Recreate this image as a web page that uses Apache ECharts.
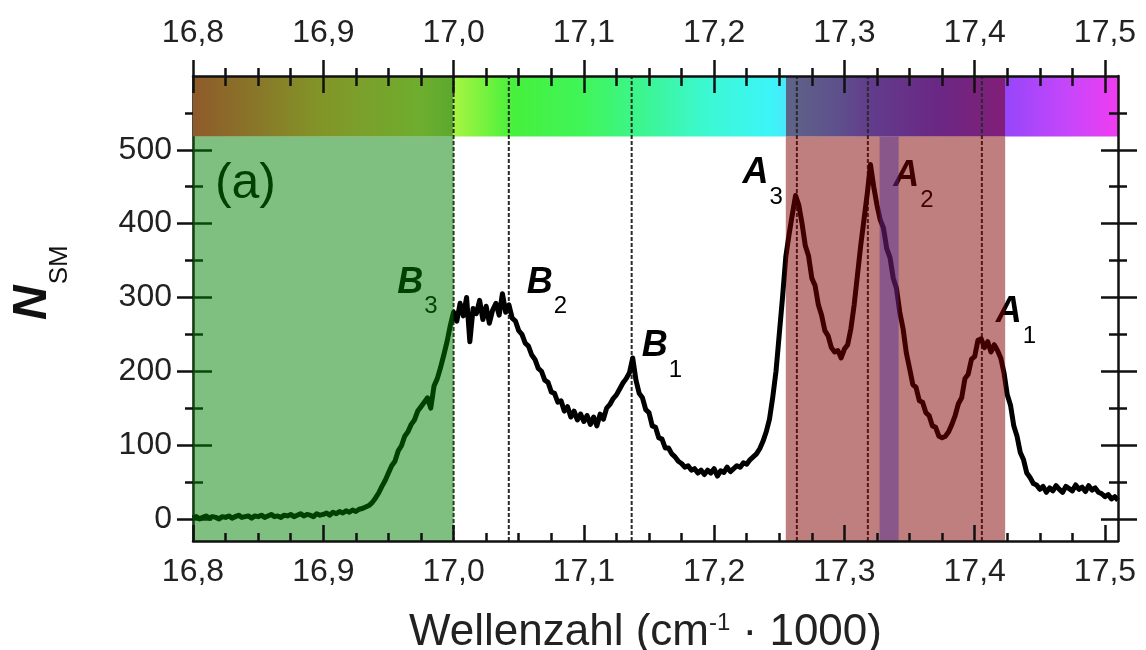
<!DOCTYPE html>
<html>
<head>
<meta charset="utf-8">
<script src="https://cdn.jsdelivr.net/npm/echarts@6/dist/echarts.min.js"></script>
<style>
  html, body { margin: 0; padding: 0; background: #fff; }
  #chart { width: 1146px; height: 650px; }
</style>
</head>
<body>
<div id="chart"></div>
<script>
// Wellenzahl grid of the measured spectrum (cm^-1 / 1000)
const X_START = 16.8;
const X_STEP = 0.0025;
const X_MIN = 16.8, X_MAX = 17.51;
const Y_MIN = -30, Y_MAX = 600;

// N_SM, one value every 0.0025
const nsm = [
  // 16.800 - 16.900
  1,3,0,2,4,1,3,2,0,3, 2,4,1,3,5,2,3,4,1,4, 3,5,2,4,6,3,4,2,5,4, 6,3,5,7,4,6,5,3,7,5, 6,
  // 16.9025 - 17.000 (flank up to B3)
  8,5,9,7,10,8,11,9,12,10,13,14, 16,18,22,28, 35,44,52,62, 72,78,92,99,112,
  118,128,134,146,152, 158,164,150,180, 190,205,222,240,262,280,
  // 17.0025 - 17.045 (plateau B3/B2)
  268,292,275,300,240,285,278,296,270,288,265,283,292,276,305,280,290,272,
  // 17.0475 - 17.100
  268,255,250,238,234,222,216,204,200,188,185,172,170,158,160,146,152,138,146,134,142,132,
  // 17.1025 - 17.1375 (B1)
  140,128,138,126,142,135,150, 155,163,168,176,184,190,198,218,
  // 17.14 - 17.235
  188,170,164,148,144,126,124,110,108,96,96, 88,84,78,75,70,72,66,68,62,66,
  60,66,62,68,58,65,63,70,64,68, 72,70,76,74,80,84,88,95,
  // 17.2375 - 17.2925 (A3)
  105,118,135,165, 200,250,300,355, 385,412,438,425, 400,370,356,326,316, 290,276,255,248,232,226,
  // 17.295 - 17.3475 (A2)
  228,218,230,236,258, 290,330,370,405, 440,480,450, 425,405,394,366,354,326, 312,280,258,225,
  // 17.35 - 17.4325 (A1)
  204,182,178,160,158, 144,140,126,124,112,110, 112,118,128,
  140,156,164,190,196,216,220,242,244, 232,240,226,236,228,218, 198,168,154,126,112,
  // 17.435 - 17.51
  90,80,62,56,48, 46,40,44,36,42,38,45,40,36,44,41,38,46,40,43,37,45,39,42,36, 34,30,33,27,30,25
];

const xMajorTicks = [16.8, 16.9, 17.0, 17.1, 17.2, 17.3, 17.4, 17.5];
const xMinorTicks = [16.825, 16.85, 16.875, 16.925, 16.95, 16.975, 17.025, 17.05, 17.075,
  17.125, 17.15, 17.175, 17.225, 17.25, 17.275, 17.325, 17.35, 17.375, 17.425, 17.45, 17.475];
const yMajorTicks = [0, 100, 200, 300, 400, 500];
const yMinorTicks = [50, 150, 250, 350, 450, 550];

// shaded ranges: B-band, A-band, narrow excitation band
const shadeFrom = [16.8, 17.255, 17.327];
const shadeTo = [17.0, 17.4234, 17.3416];
const shadeColors = ['rgba(0,128,0,0.5)', 'rgba(128,0,0,0.5)', 'rgba(70,40,150,0.45)'];

// peak positions (dashed lines)
const peakLines = [17.0, 17.0424, 17.1367, 17.2635, 17.318, 17.4055];

// colour bar on top
const barLow = 518;
const specX = [16.8, 16.9, 16.976, 16.999, 17.0, 17.046, 17.10, 17.142, 17.193, 17.243, 17.2549,
  17.255, 17.295, 17.32, 17.371, 17.4233, 17.4235, 17.473, 17.51];
const specColors = ['#8f5a2a', '#829628', '#6eae2e', '#5aaa2e', '#a8f542', '#46f03c', '#40f55a',
  '#3cf58c', '#3cf8d0', '#3cf5f8', '#48e8fa', '#5e6488', '#5e508c', '#623c8c', '#6a2884',
  '#821e78', '#9646fa', '#c846fa', '#f03cf0'];

// peak names (anchor = left edge / middle of the big letter)
const labelMain = ['(a)', 'B', 'B', 'B', 'A', 'A', 'A'];
const labelSub = ['', '3', '2', '1', '3', '2', '1'];
const labelX = [16.8168, 16.9567, 17.0561, 17.1444, 17.2217, 17.3375, 17.4162];
const labelY = [453, 320, 320, 234, 468, 464, 280];

const FONT = "'Liberation Sans', Arial, sans-serif";
const INK = '#111';
const fmtX = v => v.toFixed(1).replace('.', ',');

const BIG_FONT = 'italic bold 36px ' + FONT;
const SUB_FONT = '24px ' + FONT;
const TAG_FONT = '50px ' + FONT;

const measureCtx = document.createElement('canvas').getContext('2d');
function textWidth(font, s) {
  measureCtx.font = font;
  return measureCtx.measureText(s).width;
}

const chart = echarts.init(document.getElementById('chart'));

function axis(kind, position, ticks, inside, len, extra) {
  return Object.assign({
    type: 'value',
    position: position,
    min: kind === 'x' ? X_MIN : Y_MIN,
    max: kind === 'x' ? X_MAX : Y_MAX,
    z: 10,
    axisLine: { show: false, onZero: false, lineStyle: { color: INK, width: 2.5 } },
    axisTick: { show: true, inside: inside, length: len, customValues: ticks,
      lineStyle: { color: INK, width: 2.5 } },
    axisLabel: { show: false },
    splitLine: { show: false }
  }, extra || {});
}

const tickLabel = { fontFamily: FONT, fontSize: 32, color: '#222' };

const xAxes = [
  axis('x', 'bottom', xMajorTicks, true, 16, {
    axisLine: { show: true, onZero: false, lineStyle: { color: INK, width: 2.5 } },
    axisLabel: Object.assign({ show: true, margin: 15, customValues: xMajorTicks, formatter: fmtX }, tickLabel),
    name: '{t|Wellenzahl (cm}{sup|-1}{t| · 1000)}',
    nameLocation: 'middle',
    nameGap: 70,
    nameTextStyle: {
      padding: [0, 20, 0, 0],
      rich: {
        t: { fontFamily: FONT, fontSize: 44, lineHeight: 44, color: '#222' },
        sup: { fontFamily: FONT, fontSize: 24, lineHeight: 24, verticalAlign: 'top', color: '#222' }
      }
    }
  }),
  axis('x', 'bottom', xMinorTicks, true, 8),
  axis('x', 'top', xMajorTicks, false, 16, {
    axisLine: { show: true, onZero: false, lineStyle: { color: INK, width: 2.5 } },
    axisLabel: Object.assign({ show: true, margin: 27, customValues: xMajorTicks, formatter: fmtX }, tickLabel)
  }),
  axis('x', 'top', xMajorTicks, true, 17),
  axis('x', 'top', xMinorTicks, false, 8),
  axis('x', 'top', xMinorTicks, true, 10)
];

const yAxes = [
  axis('y', 'left', yMajorTicks, false, 16, {
    z: 0,
    axisLine: { show: true, onZero: false, lineStyle: { color: INK, width: 2.5 } },
    axisLabel: Object.assign({ show: true, margin: 21, customValues: yMajorTicks }, tickLabel)
  }),
  axis('y', 'left', yMajorTicks, true, 19, { z: 0 }),
  axis('y', 'left', yMinorTicks, false, 8, { z: 0 }),
  axis('y', 'left', yMinorTicks, true, 10, { z: 0 }),
  axis('y', 'right', yMajorTicks, false, 19, {
    axisLine: { show: true, onZero: false, lineStyle: { color: INK, width: 2.5 } }
  }),
  axis('y', 'right', yMajorTicks, true, 17),
  axis('y', 'right', yMinorTicks, false, 9),
  axis('y', 'right', yMinorTicks, true, 9)
];

const lineData = nsm.map((v, i) => [+(X_START + i * X_STEP).toFixed(4), v]);

// y axis title: N with subscript SM, reading upwards
const titleN = 'italic bold 48px ' + FONT;
const titleS = '26px ' + FONT;

const option = {
  animation: false,
  backgroundColor: '#fff',
  grid: { left: 193, right: 28, top: 76, bottom: 109, containLabel: false, outerBoundsMode: 'none' },
  xAxis: xAxes,
  yAxis: yAxes,
  graphic: [{
    type: 'group',
    x: 33,
    y: 320,
    rotation: Math.PI / 2,
    children: [
      { type: 'text', x: 0, y: 0,
        style: { text: 'N', font: titleN, fill: '#111', align: 'left', verticalAlign: 'middle' } },
      { type: 'text', x: textWidth(titleN, 'N') + 1, y: 27,
        style: { text: 'SM', font: titleS, fill: '#111', align: 'left', verticalAlign: 'middle' } }
    ]
  }],
  series: [
    {
      // colour bar
      type: 'custom',
      silent: true,
      z: 1,
      encode: { x: [0, 1], y: [2, 3] },
      data: [[X_MIN, X_MAX, barLow, Y_MAX]],
      renderItem: function (params, api) {
        const p0 = api.coord([api.value(0), api.value(2)]);
        const p1 = api.coord([api.value(1), api.value(3)]);
        const span = X_MAX - X_MIN;
        const stops = specX.map((x, i) => ({ offset: (x - X_MIN) / span, color: specColors[i] }));
        return {
          type: 'rect',
          shape: { x: p0[0], y: p1[1], width: p1[0] - p0[0], height: p0[1] - p1[1] },
          style: { fill: new echarts.graphic.LinearGradient(0, 0, 1, 0, stops) }
        };
      }
    },
    {
      // dashed peak markers
      type: 'custom',
      silent: true,
      z: 2,
      encode: { x: 0 },
      data: peakLines.map(x => [x]),
      renderItem: function (params, api) {
        const a = api.coord([api.value(0), Y_MIN]);
        const b = api.coord([api.value(0), Y_MAX]);
        return {
          type: 'line',
          shape: { x1: a[0], y1: a[1], x2: b[0], y2: b[1] },
          style: { stroke: '#2a2a2a', lineWidth: 2, lineDash: [4, 2] }
        };
      }
    },
    {
      type: 'line',
      z: 3,
      data: lineData,
      showSymbol: false,
      silent: true,
      lineStyle: { color: '#000', width: 5, join: 'round' }
    },
    {
      // peak names
      type: 'custom',
      silent: true,
      z: 3,
      data: labelX.map((x, i) => [x, labelY[i]]),
      renderItem: function (params, api) {
        const i = params.dataIndex;
        const p = api.coord([api.value(0), api.value(1)]);
        if (labelSub[i] === '') {
          return {
            type: 'text', x: p[0], y: p[1],
            style: { text: labelMain[i], font: TAG_FONT, fill: '#000', align: 'left', verticalAlign: 'middle' }
          };
        }
        const w = textWidth(BIG_FONT, labelMain[i]);
        return {
          type: 'group',
          children: [
            { type: 'text', x: p[0], y: p[1],
              style: { text: labelMain[i], font: BIG_FONT, fill: '#000', align: 'left', verticalAlign: 'middle' } },
            { type: 'text', x: p[0] + w + 1, y: p[1] + 24,
              style: { text: labelSub[i], font: SUB_FONT, fill: '#000', align: 'left', verticalAlign: 'middle' } }
          ]
        };
      }
    },
    {
      // translucent bands
      type: 'custom',
      silent: true,
      z: 4,
      encode: { x: [0, 1] },
      data: shadeFrom.map((x, i) => [x, shadeTo[i]]),
      renderItem: function (params, api) {
        const p0 = api.coord([api.value(0), Y_MIN]);
        const p1 = api.coord([api.value(1), barLow]);
        return {
          type: 'rect',
          shape: { x: p0[0], y: p1[1], width: p1[0] - p0[0], height: p0[1] - p1[1] },
          style: { fill: shadeColors[params.dataIndex] }
        };
      }
    }
  ]
};

chart.setOption(option);
</script>
</body>
</html>
